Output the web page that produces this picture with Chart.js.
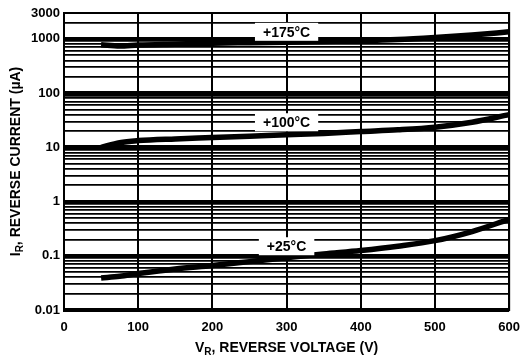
<!DOCTYPE html>
<html>
<head>
<meta charset="utf-8">
<script src="https://cdn.jsdelivr.net/npm/chart.js@4/dist/chart.umd.min.js"></script>
<style>
  html, body { margin: 0; padding: 0; background: #fff; }
  #wrap { width: 530px; height: 364px; position: relative; }
</style>
</head>
<body>
<div id="wrap"><canvas id="c" width="530" height="364"></canvas></div>
<script>
// ---- data ----
const voltage = [50, 75, 100, 150, 200, 250, 300, 350, 400, 450, 500, 550, 600];
const current175 = [780, 740, 770, 800, 830, 850, 870, 890, 920, 970, 1060, 1180, 1350];
const current100 = [10, 12.2, 13.3, 14.3, 15.1, 16, 17, 18, 19.5, 21, 23.5, 29, 40];
const current25  = [0.039, 0.042, 0.047, 0.057, 0.066, 0.078, 0.092, 0.108, 0.125, 0.15, 0.19, 0.28, 0.47];
const seriesLabels = ['+175°C', '+100°C', '+25°C'];
const labelAnchors = [[300, 1350], [300, 29], [300, 0.15]]; // [V, µA] where each curve label sits
const xTicks = [0, 100, 200, 300, 400, 500, 600];
const yTickLabels = [0.01, 0.1, 1, 10, 100, 1000, 3000];
const yMin = 0.01, yMax = 3000;

function gridValues() {
  const v = [];
  for (let d = -2; d <= 3; d++) {
    for (let m = 1; m <= 9; m++) {
      const val = +(m * Math.pow(10, d)).toPrecision(3);
      if (val >= yMin && val <= yMax) v.push(val);
    }
  }
  return v;
}
function isDecade(v) { const l = Math.log10(v); return Math.abs(l - Math.round(l)) < 1e-6; }

const FONT = '"Liberation Sans", Arial, Helvetica, sans-serif';

const decor = {
  id: 'decor',
  afterDatasetsDraw(chart) {
    const { ctx, chartArea: a, scales: { x, y } } = chart;
    ctx.save();
    ctx.font = 'bold 14px ' + FONT;
    ctx.textBaseline = 'middle';
    seriesLabels.forEach((lab, i) => {
      const px = x.getPixelForValue(labelAnchors[i][0]);
      const py = y.getPixelForValue(labelAnchors[i][1]);
      const w = ctx.measureText(lab).width;
      ctx.fillStyle = '#fff';
      ctx.fillRect(px - w / 2 - 8, py - 9, w + 16, 18);
      ctx.fillStyle = '#000';
      ctx.textAlign = 'center';
      ctx.fillText(lab, px, py + 1);
    });
    ctx.strokeStyle = '#000';
    ctx.lineWidth = 2;
    ctx.strokeRect(a.left, a.top, a.right - a.left, a.bottom - a.top);
    ctx.restore();

    function drawSub(parts, cx, cy) {
      let total = 0;
      parts.forEach(p => { ctx.font = (p[1] ? 'bold 10px ' : 'bold 14px ') + FONT; p.w = ctx.measureText(p[0]).width; total += p.w; });
      let xx = cx - total / 2;
      ctx.textAlign = 'left';
      ctx.textBaseline = 'alphabetic';
      parts.forEach(p => {
        ctx.font = (p[1] ? 'bold 10px ' : 'bold 14px ') + FONT;
        ctx.fillText(p[0], xx, cy + (p[1] ? 3 : 0));
        xx += p.w;
      });
    }
    ctx.save();
    ctx.fillStyle = '#000';
    drawSub([['V', false], ['R', true], [', REVERSE VOLTAGE (V)', false]], (a.left + a.right) / 2, 352);
    ctx.translate(20, (a.top + a.bottom) / 2);
    ctx.rotate(-Math.PI / 2);
    drawSub([['I', false], ['R', true], [', REVERSE CURRENT (\u00b5A)', false]], 0, 0);
    ctx.restore();
  }
};

const mk = (data) => ({
  data: voltage.map((v, i) => ({ x: v, y: data[i] })),
  borderColor: '#000',
  borderWidth: 5.5,
  pointRadius: 0,
  tension: 0.4,
  cubicInterpolationMode: 'monotone',
  fill: false
});

new Chart(document.getElementById('c'), {
  type: 'line',
  data: { datasets: [mk(current175), mk(current100), mk(current25)] },
  options: {
    responsive: false,
    animation: false,
    events: [],
    layout: { padding: { top: 13, right: 18, left: 0, bottom: 0 } },
    plugins: { legend: { display: false }, tooltip: { enabled: false } },
    scales: {
      x: {
        type: 'linear', min: 0, max: 600,
        afterBuildTicks(s) { s.ticks = xTicks.map(v => ({ value: v })); },
        afterFit(s) { s.height = 54; },
        grid: { color: '#000', lineWidth: 2, drawTicks: false },
        border: { display: true, color: '#000', width: 2 },
        ticks: { color: '#000', padding: 10, font: { family: FONT, size: 13, weight: 'bold' }, maxRotation: 0 }
      },
      y: {
        type: 'logarithmic', min: yMin, max: yMax,
        afterBuildTicks(s) { s.ticks = gridValues().map(v => ({ value: v })); },
        afterFit(s) { s.width = 64; },
        grid: {
          color: '#000',
          lineWidth: (c) => (c.tick && isDecade(c.tick.value)) ? 4 : 1.8,
          drawTicks: false
        },
        border: { display: true, color: '#000', width: 2 },
        ticks: {
          color: '#000', padding: 4, autoSkip: false,
          font: { family: FONT, size: 13, weight: 'bold' },
          callback: (v) => yTickLabels.includes(+(+v).toPrecision(3)) ? String(+(+v).toPrecision(3)) : ''
        }
      }
    }
  },
  plugins: [decor]
});
</script>
</body>
</html>
